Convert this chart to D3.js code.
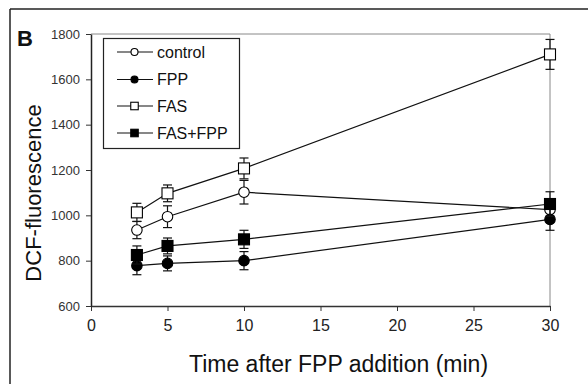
<!DOCTYPE html>
<html><head><meta charset="utf-8">
<script src="https://cdn.jsdelivr.net/npm/d3@7"></script>
<style>html,body{margin:0;padding:0;background:#fff;}svg{display:block;font-family:Arial,"Liberation Sans",sans-serif;}</style>
</head><body>
<svg id="c" width="588" height="384"></svg>
<script>
const times = [3, 5, 10, 30];
const controlVals = [935, 994, 1102, 1025];
const controlErr = [38, 48, 52, 40];
const fppVals = [778, 788, 800, 982];
const fppErr = [40, 33, 40, 48];
const fasVals = [1013, 1097, 1207, 1710];
const fasErr = [40, 37, 46, 66];
const fasFppVals = [825, 865, 894, 1050];
const fasFppErr = [40, 35, 40, 54];
const xTicks = [0, 5, 10, 15, 20, 25, 30];
const yTicks = [600, 800, 1000, 1200, 1400, 1600, 1800];
const seriesNames = ["control", "FPP", "FAS", "FAS+FPP"];

const series = [
  {name: seriesNames[0], vals: controlVals, err: controlErr, shape: "circle", fill: "#fff"},
  {name: seriesNames[1], vals: fppVals, err: fppErr, shape: "circle", fill: "#000"},
  {name: seriesNames[2], vals: fasVals, err: fasErr, shape: "square", fill: "#fff"},
  {name: seriesNames[3], vals: fasFppVals, err: fasFppErr, shape: "square", fill: "#000"}
];

const svg = d3.select("#c");
const x = d3.scaleLinear().domain([0, 30]).range([91, 550]);
const y = d3.scaleLinear().domain([600, 1800]).range([306, 34]);

// outer frame
svg.append("line").attr("x1", 10).attr("x2", 588).attr("y1", 9).attr("y2", 9).attr("stroke", "#222").attr("stroke-width", 1.5);
svg.append("line").attr("x1", 10).attr("x2", 10).attr("y1", 9).attr("y2", 384).attr("stroke", "#222").attr("stroke-width", 1.5);

// plot frame (top & right)
svg.append("line").attr("x1", x(0)).attr("x2", x(30)).attr("y1", y(1800)).attr("y2", y(1800)).attr("stroke", "#888").attr("stroke-width", 1);
svg.append("line").attr("x1", x(30)).attr("x2", x(30)).attr("y1", y(1800)).attr("y2", y(600)).attr("stroke", "#888").attr("stroke-width", 1);

// axes
const xAxis = d3.axisBottom(x).tickValues(xTicks).tickFormat(d3.format("d")).tickSize(5).tickSizeOuter(0).tickPadding(9);
const gx = svg.append("g").attr("transform", `translate(0,${y(600)})`).call(xAxis);
gx.select(".domain").attr("stroke", "#333").attr("stroke-width", 1.5);
gx.selectAll(".tick line").attr("stroke", "#333");
gx.selectAll(".tick text").attr("font-size", 16).attr("fill", "#222").attr("font-family", "Arial, 'Liberation Sans', sans-serif");

const yAxis = d3.axisLeft(y).tickValues(yTicks).tickFormat(d3.format("d")).tickSize(5).tickSizeOuter(0).tickPadding(6);
const gy = svg.append("g").attr("transform", `translate(${x(0)},0)`).call(yAxis);
gy.select(".domain").attr("stroke", "#222").attr("stroke-width", 1.5);
gy.selectAll(".tick line").attr("stroke", "#333");
gy.selectAll(".tick text").attr("font-size", 13).attr("fill", "#333").attr("font-family", "Arial, 'Liberation Sans', sans-serif");

// series
const line = d3.line().x(d => x(d.t)).y(d => y(d.v));
function drawMarker(g, shape, fill, cx, cy, size) {
  if (shape === "circle") {
    g.append("circle").attr("cx", cx).attr("cy", cy).attr("r", size / 2)
      .attr("fill", fill).attr("stroke", "#000").attr("stroke-width", 1.1);
  } else {
    g.append("rect").attr("x", cx - size / 2).attr("y", cy - size / 2).attr("width", size).attr("height", size)
      .attr("fill", fill).attr("stroke", "#000").attr("stroke-width", 1.1);
  }
}
series.forEach(s => {
  const pts = times.map((t, i) => ({t, v: s.vals[i], e: s.err[i]}));
  const g = svg.append("g");
  g.append("path").attr("d", line(pts)).attr("fill", "none").attr("stroke", "#111").attr("stroke-width", 1.2);
  pts.forEach(p => {
    const cx = x(p.t);
    g.append("line").attr("x1", cx).attr("x2", cx).attr("y1", y(p.v - p.e)).attr("y2", y(p.v + p.e)).attr("stroke", "#111").attr("stroke-width", 1.2);
    [p.v - p.e, p.v + p.e].forEach(v => {
      g.append("line").attr("x1", cx - 4.5).attr("x2", cx + 4.5).attr("y1", y(v)).attr("y2", y(v)).attr("stroke", "#111").attr("stroke-width", 1.2);
    });
  });
  pts.forEach(p => drawMarker(g, s.shape, s.fill, x(p.t), y(p.v), s.shape === "circle" ? 10.5 : 11));
});

// legend
const lg = svg.append("g");
lg.append("rect").attr("x", 103.5).attr("y", 38.5).attr("width", 136).attr("height", 110)
  .attr("fill", "#fff").attr("stroke", "#222").attr("stroke-width", 1.2);
const legendY = [52, 79.5, 106, 133];
series.forEach((s, i) => {
  const ly = legendY[i];
  lg.append("line").attr("x1", 117).attr("x2", 153).attr("y1", ly).attr("y2", ly).attr("stroke", "#111").attr("stroke-width", 1.2);
  drawMarker(lg, s.shape, s.fill, 134.5, ly, s.shape === "circle" ? 7 : 7.5);
  lg.append("text").attr("x", 157).attr("y", ly).attr("dy", "0.36em").attr("font-size", 16).attr("fill", "#111").text(s.name);
});

// panel label
svg.append("text").attr("x", 17).attr("y", 46).attr("font-size", 22).attr("font-weight", "bold").attr("fill", "#111").text("B");

// axis titles
svg.append("text").attr("transform", "translate(41,193) rotate(-90)").attr("text-anchor", "middle")
  .attr("font-size", 22).attr("fill", "#111").text("DCF-fluorescence");
svg.append("text").attr("x", 338.5).attr("y", 371.5).attr("text-anchor", "middle")
  .attr("font-size", 23).attr("fill", "#111").text("Time after FPP addition (min)");
</script>
</body></html>
